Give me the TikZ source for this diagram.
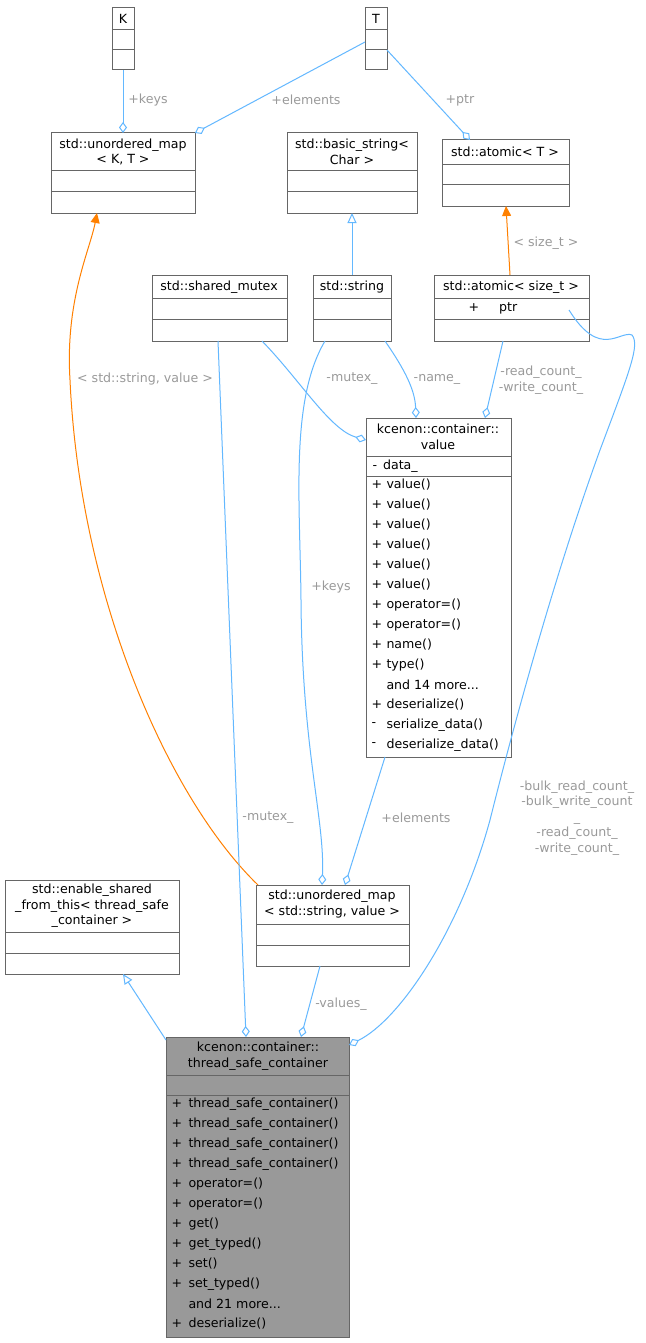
\documentclass[tikz,border=0pt]{standalone}
\usepackage{fontspec}
\setmainfont{DejaVu Sans}
\usetikzlibrary{fit,arrows.meta}
\definecolor{edge}{HTML}{63B8FF}
\definecolor{lbl}{HTML}{9A9A9A}
\definecolor{bord}{HTML}{666666}
\definecolor{grayfill}{HTML}{999999}
\begin{document}
\begin{tikzpicture}[x=1pt,y=-1pt,line width=1pt,
  box/.style={draw=bord,inner sep=0pt,fill=white},
  txt/.style={inner sep=0pt,font=\fontsize{12.6}{15.5}\selectfont,align=center},
  mtxt/.style={inner sep=0pt,font=\fontsize{12.6}{15.5}\selectfont,anchor=west},
  el/.style={inner sep=0pt,font=\fontsize{12.6}{15.5}\selectfont,text=lbl,align=center},
  agg/.style={draw=edge,-{Diamond[open,length=11pt,width=8pt]}},
  inh/.style={draw=edge,-{Triangle[open,length=10pt,width=9pt]}},
  tmpl/.style={draw=orange,-{Triangle[length=10pt,width=9pt,fill=orange]}}]
\useasboundingbox (0,0) rectangle (645,1343);
\fill[white] (0,0) rectangle (645,1343);
\newcommand{\sepline}[3]{\draw[bord] (#1,#3) -- (#2,#3);}
% K
\node[box,fit={(112,8)(134,70)}] (K) {};
\node[txt] at (123,19) {K}; \sepline{112}{134}{30}\sepline{112}{134}{50}
% T
\node[box,fit={(365,8)(387,70)}] (T) {};
\node[txt] at (376,19) {T}; \sepline{365}{387}{30}\sepline{365}{387}{50}
% map K T
\node[box,fit={(51,133)(195,213)}] (mapKT) {};
\node[txt] at (123,152) {std::unordered\_map\\< K, T >}; \sepline{51}{195}{171}\sepline{51}{195}{192}
% basic_string
\node[box,fit={(287,133)(417,213)}] (bstr) {};
\node[txt] at (352,152) {std::basic\_string<\\Char >}; \sepline{287}{417}{171}\sepline{287}{417}{192}
% atomic T
\node[box,fit={(442,140)(569,206)}] (atT) {};
\node[txt] at (505,152) {std::atomic< T >}; \sepline{442}{569}{165}\sepline{442}{569}{185}
% shared mutex
\node[box,fit={(152,275)(287,341)}] (mtx) {};
\node[txt] at (219,287) {std::shared\_mutex}; \sepline{152}{287}{298}\sepline{152}{287}{319}
% string
\node[box,fit={(313,275)(391,341)}] (str) {};
\node[txt] at (352,287) {std::string}; \sepline{313}{391}{298}\sepline{313}{391}{319}
% atomic size_t
\node[box,fit={(434,275)(589,341)}] (atS) {};
\node[txt] at (511,287) {std::atomic< size\_t >}; \sepline{434}{589}{298}\sepline{434}{589}{319}
\node[mtxt] at (468,308) {+\hspace{20pt}ptr};
% value
\node[box,fit={(366,418)(511,757)}] (val) {};
\node[txt] at (438,437) {kcenon::container::\\value}; \sepline{366}{511}{456}\sepline{366}{511}{476}
\node[mtxt] at (372,466) {-\hspace{6pt}data\_};
\foreach \i/\s/\t in {0/+/value(),1/+/value(),2/+/value(),3/+/value(),4/+/value(),5/+/value(),6/+/operator=(),7/+/operator=(),8/+/name(),9/+/type(),10/ /{and 14 more{.}{.}{.}},11/+/deserialize(),12/-/serialize\_data(),13/-/deserialize\_data()}{
  \node[mtxt] at (371,485+20*\i) {\s}; \node[mtxt] at (386,485+20*\i) {\t};}
% enable shared
\node[box,fit={(5,880)(179,974)}] (ens) {};
\node[txt] at (92,906) {std::enable\_shared\\\_from\_this< thread\_safe\\\_container >}; \sepline{5}{179}{932}\sepline{5}{179}{953}
% map string value
\node[box,fit={(256,885)(409,966)}] (mapSV) {};
\node[txt] at (332,904) {std::unordered\_map\\< std::string, value >}; \sepline{256}{409}{924}\sepline{256}{409}{945}
% thread safe container
\node[box,fill=grayfill,fit={(166,1037)(349,1337)}] (tsc) {};
\node[txt] at (258,1056) {kcenon::container::\\thread\_safe\_container}; \sepline{166}{349}{1075}\sepline{166}{349}{1095}
\foreach \i/\s/\t in {0/+/thread\_safe\_container(),1/+/thread\_safe\_container(),2/+/thread\_safe\_container(),3/+/thread\_safe\_container(),4/+/operator=(),5/+/operator=(),6/+/get(),7/+/get\_typed(),8/+/set(),9/+/set\_typed(),10/ /{and 21 more{.}{.}{.}},11/+/deserialize()}{
  \node[mtxt] at (171,1104+20*\i) {\s}; \node[mtxt] at (188,1104+20*\i) {\t};}
% edges
\draw[agg] (K.south) -- (123,133);
\node[el] at (148,100) {+keys};
\draw[agg] (365,42) -- (195,133);
\node[el] at (306,100) {+elements};
\draw[agg] (387,50) -- (470,140);
\node[el] at (460,100) {+ptr};
\draw[inh] (str.north) -- (352,213);
\draw[tmpl] (510,275) -- (506,206);
\node[el] at (546,243) {< size\_t >};
\draw[agg] (262,341) .. controls (300,380) and (330,430) .. (366,440);
\node[el] at (352,379) {-mutex\_};
\draw[agg] (385,341) .. controls (405,370) and (415,390) .. (416,418);
\node[el] at (437,379) {-name\_};
\draw[agg] (503,341) -- (485,418);
\node[el] at (541,380) {-read\_count\_\\-write\_count\_};
\draw[tmpl] (258,885) .. controls (170,800) and (80,600) .. (70,380) .. controls (65,300) and (90,250) .. (97,213);
\node[el] at (145,379) {< std::string, value >};
\draw[agg] (325,341) .. controls (290,400) and (300,500) .. (301,600) .. controls (302,750) and (325,820) .. (322,885);
\node[el] at (331,587) {+keys};
\draw[agg] (385,757) -- (345,885);
\node[el] at (416,818) {+elements};
\draw[agg] (218,341) -- (246,1037);
\node[el] at (268,818) {-mutex\_};
\draw[agg] (320,966) -- (301,1037);
\node[el] at (341,1004) {-values\_};
\draw[inh] (166,1040) -- (123,974);
\draw[agg] (569,310) .. controls (600,360) and (620,330) .. (632,335) .. controls (640,345) and (630,370) .. (600,450) .. controls (560,560) and (520,700) .. (490,820) .. controls (460,930) and (400,1020) .. (349,1045);
\node[el] at (577,818) {-bulk\_read\_count\_\\-bulk\_write\_count\\\_\\-read\_count\_\\-write\_count\_};
\end{tikzpicture}
\end{document}
